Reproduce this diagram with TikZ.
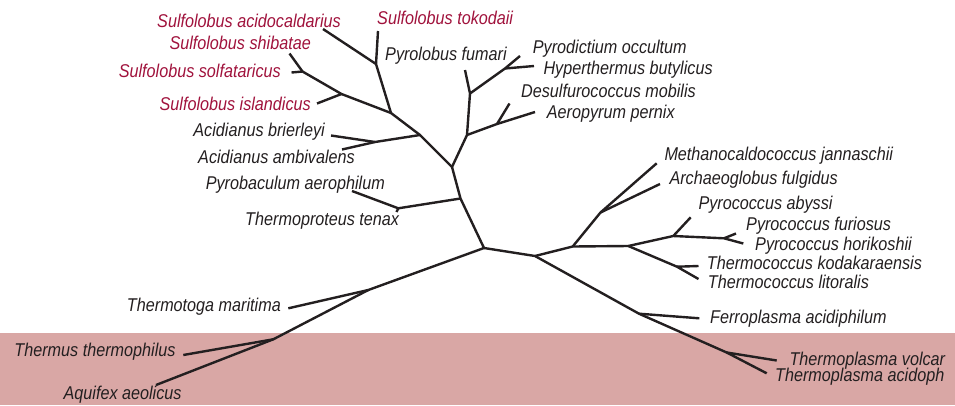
\documentclass[tikz,border=0pt]{standalone}
\usepackage{fontspec}
\setmainfont{Liberation Sans}[FakeStretch=0.875]
\definecolor{sulf}{RGB}{160,18,60}
\definecolor{ink}{RGB}{35,31,32}
\definecolor{band}{RGB}{217,167,165}
\begin{document}
\begin{tikzpicture}[x=1pt,y=-1pt,
  br/.style={draw=ink,line width=2.4pt,line join=round},
  lab/.style={font=\fontsize{18.5}{21}\selectfont\itshape,text=ink,inner sep=0pt},
  sl/.style={lab,text=sulf}]
\clip (0,0) rectangle (955,405);
\fill[band] (0,333) rectangle (955,405);
% internal nodes and tips
\coordinate (R) at (484,248);
\coordinate (C1) at (460.5,198.5);
\coordinate (A4) at (452,167);
\coordinate (A3) at (420,135);
\coordinate (A2) at (391,113);
\coordinate (A1) at (376,64);
\coordinate (tTok) at (378,31);
\coordinate (tAcido) at (323,29);
\coordinate (Sis) at (341.5,94);
\coordinate (Ssol) at (302.5,71.5);
\coordinate (tShib) at (289.5,53.5);
\coordinate (tSolf) at (291.5,72.5);
\coordinate (tIsl) at (317,103.5);
\coordinate (Ac) at (375,142);
\coordinate (tBri) at (331,135.5);
\coordinate (tAmb) at (342,149.5);
\coordinate (Pb) at (398.3,208.3);
\coordinate (tPba) at (352,191);
\coordinate (tTte) at (396.5,212);
\coordinate (B1) at (467,135);
\coordinate (B2) at (470,93.5);
\coordinate (tPyl) at (465,70);
\coordinate (B3) at (505,68.5);
\coordinate (tPyd) at (520,56);
\coordinate (tHyp) at (534,66);
\coordinate (Bd) at (497,124);
\coordinate (tDes) at (509.5,103.5);
\coordinate (tAer) at (535,112);
\coordinate (D1) at (535,256);
\coordinate (D2) at (572.7,246.5);
\coordinate (D3) at (600.5,212.5);
\coordinate (tMet) at (656.7,163.3);
\coordinate (tArc) at (660,184);
\coordinate (D4) at (628.3,246);
\coordinate (D5) at (673.3,236);
\coordinate (tPab) at (690.7,217.3);
\coordinate (D6) at (724,238.3);
\coordinate (tPfu) at (736,233.5);
\coordinate (tPho) at (743.3,243.5);
\coordinate (D7) at (677,266.7);
\coordinate (tTko) at (698.5,266);
\coordinate (tTli) at (698.5,279);
\coordinate (F1) at (639,313.7);
\coordinate (tFer) at (699.3,318.3);
\coordinate (F2) at (726.7,352.5);
\coordinate (tTvo) at (776.7,360.5);
\coordinate (tTac) at (766.7,373.3);
\coordinate (E1) at (368.3,290);
\coordinate (tTma) at (288.3,308.3);
\coordinate (E2) at (273.3,339.3);
\coordinate (tTth) at (183.3,355);
\coordinate (tAqu) at (156,385);
% branches
\draw[br] (tAcido) -- (A1) -- (A2) -- (A3) -- (A4) -- (C1) -- (R) -- (E1) -- (E2) -- (tAqu);
\draw[br] (tTok) -- (A1);
\draw[br] (tShib) -- (Ssol) -- (Sis) -- (A2);
\draw[br] (tSolf) -- (Ssol);
\draw[br] (tIsl) -- (Sis);
\draw[br] (tBri) -- (Ac) -- (A3);
\draw[br] (tAmb) -- (Ac);
\draw[br] (tPba) -- (Pb) -- (C1);
\draw[br] (tTte) -- (Pb);
\draw[br] (A4) -- (B1) -- (B2) -- (tPyl);
\draw[br] (B2) -- (B3) -- (tPyd);
\draw[br] (B3) -- (tHyp);
\draw[br] (B1) -- (Bd) -- (tAer);
\draw[br] (Bd) -- (tDes);
\draw[br] (R) -- (D1) -- (F1) -- (F2) -- (tTac);
\draw[br] (F1) -- (tFer);
\draw[br] (F2) -- (tTvo);
\draw[br] (D1) -- (D2) -- (D4) -- (D5) -- (D6) -- (tPho);
\draw[br] (D6) -- (tPfu);
\draw[br] (D5) -- (tPab);
\draw[br] (D2) -- (D3) -- (tMet);
\draw[br] (D3) -- (tArc);
\draw[br] (D4) -- (D7) -- (tTli);
\draw[br] (D7) -- (tTko);
\draw[br] (E1) -- (tTma);
\draw[br] (E2) -- (tTth);
% labels
\node[sl,anchor=base east] (lAcido) at (341,27) {Sulfolobus acidocaldarius};
\node[sl,anchor=base east] (lShib) at (311,49.3) {Sulfolobus shibatae};
\node[sl,anchor=base east] (lSolf) at (281,77.7) {Sulfolobus solfataricus};
\node[sl,anchor=base east] (lIsl) at (311,110) {Sulfolobus islandicus};
\node[sl,anchor=base west] (lTok) at (377,24) {Sulfolobus tokodaii};
\node[lab,anchor=base west] (lPyl) at (385,60.7) {Pyrolobus fumari};
\node[lab,anchor=base west] (lPyd) at (532.7,53.3) {Pyrodictium occultum};
\node[lab,anchor=base west] (lHyp) at (543.3,74) {Hyperthermus butylicus};
\node[lab,anchor=base west] (lDes) at (521,97.7) {Desulfurococcus mobilis};
\node[lab,anchor=base west] (lAer) at (546.7,118.3) {Aeropyrum pernix};
\node[lab,anchor=base east] (lBri) at (325,136) {Acidianus brierleyi};
\node[lab,anchor=base east] (lAmb) at (355,163.3) {Acidianus ambivalens};
\node[lab,anchor=base east] (lPba) at (385,189.3) {Pyrobaculum aerophilum};
\node[lab,anchor=base east] (lTte) at (399.3,225) {Thermoproteus tenax};
\node[lab,anchor=base west] (lMet) at (664.3,160.7) {Methanocaldococcus jannaschii};
\node[lab,anchor=base west] (lArc) at (669.3,184) {Archaeoglobus fulgidus};
\node[lab,anchor=base west] (lPab) at (698.3,209.3) {Pyrococcus abyssi};
\node[lab,anchor=base west] (lPfu) at (746,230) {Pyrococcus furiosus};
\node[lab,anchor=base west] (lPho) at (755,250) {Pyrococcus horikoshii};
\node[lab,anchor=base west] (lTko) at (706.7,269.3) {Thermococcus kodakaraensis};
\node[lab,anchor=base west] (lTli) at (707.7,288.3) {Thermococcus litoralis};
\node[lab,anchor=base west] (lFer) at (710,323.3) {Ferroplasma acidiphilum};
\node[lab,anchor=base west] (lTvo) at (789.3,365) {Thermoplasma volcar};
\node[lab,anchor=base west] (lTac) at (775,381.7) {Thermoplasma acidoph};
\node[lab,anchor=base east] (lTma) at (281,311.7) {Thermotoga maritima};
\node[lab,anchor=base east] (lTth) at (175.7,356) {Thermus thermophilus};
\node[lab,anchor=base east] (lAqu) at (181.7,399.3) {Aquifex aeolicus};
\end{tikzpicture}
\end{document}
